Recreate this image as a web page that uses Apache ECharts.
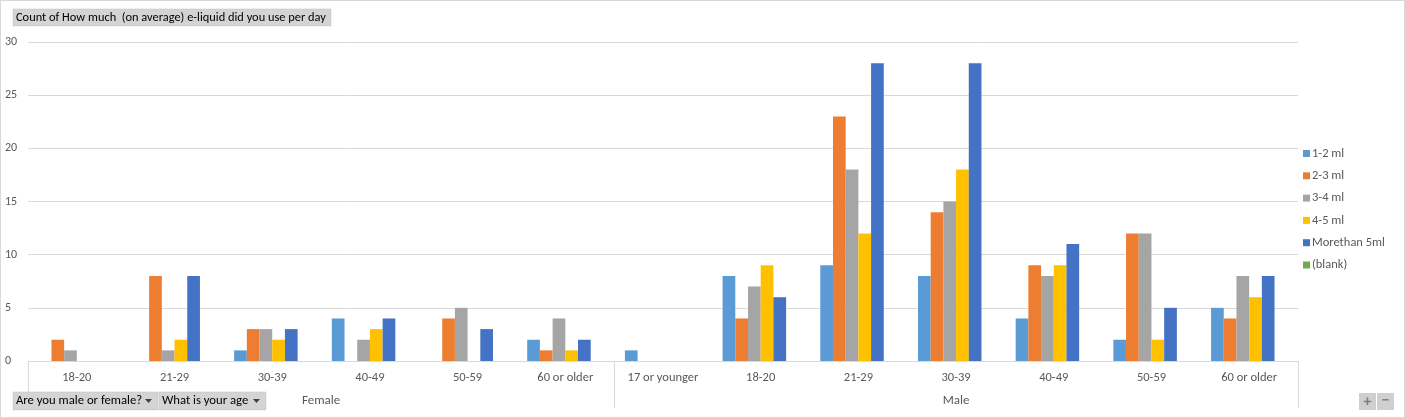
<!DOCTYPE html>
<html>
<head>
<meta charset="utf-8">
<script src="https://cdn.jsdelivr.net/npm/echarts@6/dist/echarts.min.js"></script>
<style>
  html, body { margin: 0; padding: 0; background: #fff; }
  #chart { width: 1405px; height: 418px; box-sizing: border-box; border: 1px solid #d9d9d9; }
</style>
</head>
<body>
<div id="chart"></div>
<script>
// 分组（性别）与年龄类别
const groups = ["Female", "Male"];
const femaleAges = ["18-20", "21-29", "30-39", "40-49", "50-59", "60 or older"];
const maleAges = ["17 or younger", "18-20", "21-29", "30-39", "40-49", "50-59", "60 or older"];
const ages = femaleAges.concat(maleAges);

const seriesNames = ["1-2 ml", "2-3 ml", "3-4 ml", "4-5 ml", "Morethan 5ml", "(blank)"];
const ml12 = [0, 0, 1, 4, 0, 2, 1, 8, 9, 8, 4, 2, 5];
const ml23 = [2, 8, 3, 0, 4, 1, 0, 4, 23, 14, 9, 12, 4];
const ml34 = [1, 1, 3, 2, 5, 4, 0, 7, 18, 15, 8, 12, 8];
const ml45 = [0, 2, 2, 3, 0, 1, 0, 9, 12, 18, 9, 2, 6];
const ml5plus = [0, 8, 3, 4, 3, 2, 0, 6, 28, 28, 11, 5, 8];
const blank = [0, 0, 0, 0, 0, 0, 0, 0, 0, 0, 0, 0, 0];
const yTicks = [0, 5, 10, 15, 20, 25, 30];

const colors = ["#5B9BD5", "#ED7D31", "#A5A5A5", "#FFC000", "#4472C4", "#70AD47"];
const font = "Calibri, 'Liberation Sans Narrow', 'Liberation Sans', sans-serif";
const allData = [ml12, ml23, ml34, ml45, ml5plus, blank];

const chart = echarts.init(document.getElementById("chart"), null, { renderer: "canvas" });

const option = {
  animation: false,
  color: colors,
  textStyle: { fontFamily: font },
  grid: { left: 27, right: 106, top: 41, bottom: 56 },
  legend: {
    orient: "vertical",
    left: 1297,
    top: 141,
    itemWidth: 7,
    itemHeight: 7,
    itemGap: 9.3,
    icon: "rect",
    textStyle: { color: "#595959", fontSize: 12.5, fontFamily: font, padding: [0, 0, 0, -3] },
    data: seriesNames
  },
  xAxis: {
    type: "category",
    data: ages,
    axisLine: { lineStyle: { color: "#d9d9d9" } },
    axisTick: { show: false },
    axisLabel: { color: "#595959", fontSize: 12.5, margin: 10, interval: 0 }
  },
  yAxis: {
    type: "value",
    min: 0,
    max: 30,
    interval: 5,
    axisLine: { show: false },
    axisTick: { show: false },
    splitLine: { lineStyle: { color: "#d9d9d9" } },
    axisLabel: { color: "#595959", fontSize: 12, align: "left", margin: 23 }
  },
  series: seriesNames.map((name, i) => ({
    name: name,
    type: "bar",
    data: allData[i],
    barGap: "0%",
    barCategoryGap: "22%"
  }))
};
chart.setOption(option);

// 透视表按钮、分组标签与分隔线
function drawDecor() {
  const x0 = chart.convertToPixel({ xAxisIndex: 0 }, 0);
  const x1 = chart.convertToPixel({ xAxisIndex: 0 }, 1);
  const step = x1 - x0;
  const left = x0 - step / 2;
  const mid = left + step * femaleAges.length;
  const right = left + step * ages.length;
  const yBase = chart.convertToPixel({ yAxisIndex: 0 }, 0);
  const sepBottom = yBase + 47;
  const vline = (x) => ({
    type: "line",
    shape: { x1: Math.round(x) + 0.5, y1: yBase, x2: Math.round(x) + 0.5, y2: sepBottom },
    style: { stroke: "#d9d9d9", lineWidth: 1 }
  });
  const button = (x, w, text, arrow) => ({
    type: "group",
    children: [
      {
        type: "rect",
        shape: { x: x, y: 391, width: w, height: 18 },
        style: { fill: "#d4d4d4", stroke: "#c0c0c0", lineWidth: 0.5 }
      },
      {
        type: "text",
        style: { x: x + 3, y: 400, text: text, fill: "#000", font: "12.7px " + font, verticalAlign: "middle" }
      },
      arrow ? {
        type: "polygon",
        shape: { points: [[x + w - 13, 398], [x + w - 6, 398], [x + w - 9.5, 402]] },
        style: { fill: "#404040" }
      } : null
    ].filter(Boolean)
  });
  chart.setOption({
    graphic: [
      vline(left),
      vline(mid),
      vline(right),
      {
        type: "text",
        style: { x: (left + mid) / 2, y: 400, text: groups[0], fill: "#595959", font: "13px " + font, align: "center", verticalAlign: "middle" }
      },
      {
        type: "text",
        style: { x: (mid + right) / 2, y: 400, text: groups[1], fill: "#595959", font: "13px " + font, align: "center", verticalAlign: "middle" }
      },
      {
        type: "rect",
        shape: { x: 12, y: 8, width: 318, height: 17 },
        style: { fill: "#d4d4d4", stroke: "#c0c0c0", lineWidth: 0.5 }
      },
      {
        type: "text",
        style: { x: 15, y: 17, text: "Count of How much  (on average) e-liquid did you use per day", fill: "#000", font: "12.4px " + font, verticalAlign: "middle" }
      },
      button(12, 145, "Are you male or female?", true),
      button(158, 107, "What is your age", true),
      {
        type: "rect",
        shape: { x: 1358, y: 392, width: 17, height: 17 },
        style: { fill: "#cfcfcf" }
      },
      {
        type: "text",
        style: { x: 1366.5, y: 400.5, text: "+", fill: "#7f7f7f", font: "bold 16px " + font, align: "center", verticalAlign: "middle" }
      },
      {
        type: "rect",
        shape: { x: 1376, y: 392, width: 17, height: 17 },
        style: { fill: "#cfcfcf" }
      },
      {
        type: "text",
        style: { x: 1384.5, y: 400, text: "−", fill: "#7f7f7f", font: "bold 16px " + font, align: "center", verticalAlign: "middle" }
      }
    ]
  });
}
drawDecor();
</script>
</body>
</html>
